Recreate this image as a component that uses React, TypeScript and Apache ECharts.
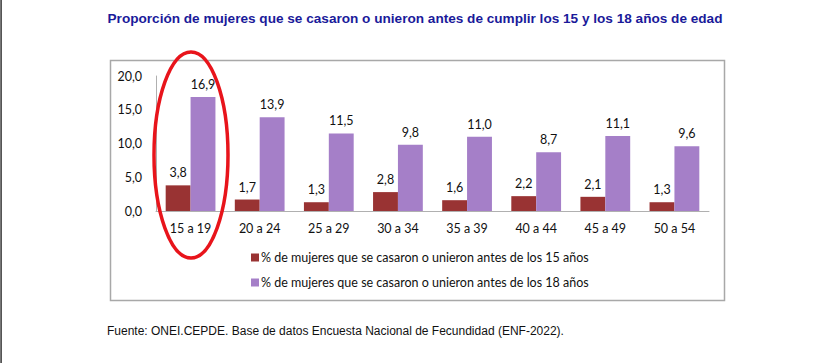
import React, { useEffect, useRef } from "react";
import * as echarts from "echarts";

const categories = ["15 a 19", "20 a 24", "25 a 29", "30 a 34", "35 a 39", "40 a 44", "45 a 49", "50 a 54"];
const before15 = [3.8, 1.7, 1.3, 2.8, 1.6, 2.2, 2.1, 1.3];
const before18 = [16.9, 13.9, 11.5, 9.8, 11.0, 8.7, 11.1, 9.6];
const seriesNames = [
  "% de mujeres que se casaron o unieron antes de los 15 años",
  "% de mujeres que se casaron o unieron antes de los 18 años",
];
const titleText = "Proporción de mujeres que se casaron o unieron antes de cumplir los 15 y los 18 años de edad";
const sourceText = "Fuente: ONEI.CEPDE. Base de datos Encuesta Nacional de Fecundidad (ENF-2022).";

const fmt = (v: number) => v.toFixed(1).replace(".", ",");
const FONT = "Lato, 'Noto Sans', sans-serif";

export default function App() {
  const ref = useRef<HTMLDivElement>(null);
  useEffect(() => {
    if (!ref.current) return;
    const chart = echarts.init(ref.current, null, { renderer: "svg" });
    const labelCfg = {
      show: true,
      position: "top" as const,
      distance: 6,
      color: "#111",
      fontFamily: FONT,
      fontSize: 12.5,
      formatter: (p: any) => fmt(p.value),
    };
    chart.setOption({
      animation: false,
      backgroundColor: "#fff",
      grid: { left: 156, right: 125, top: 76, bottom: 152, containLabel: false },
      legend: {
        orient: "vertical",
        left: 246,
        top: 246,
        itemWidth: 8,
        itemHeight: 8,
        itemGap: 12,
        icon: "rect",
        textStyle: { fontFamily: FONT, fontSize: 12.5, color: "#111", padding: [0, 0, 0, -3] },
        data: seriesNames,
      },
      xAxis: {
        type: "category",
        data: categories,
        axisLine: { lineStyle: { color: "#b0b0b0", width: 1 } },
        axisTick: { show: false },
        axisLabel: { fontFamily: FONT, fontSize: 12.5, color: "#111", margin: 11 },
      },
      yAxis: {
        type: "value",
        min: 0,
        max: 20,
        interval: 5,
        splitLine: { show: false },
        axisLine: { show: true, lineStyle: { color: "#b0b0b0", width: 1 } },
        axisTick: { show: false },
        axisLabel: { fontFamily: FONT, fontSize: 12.5, color: "#111", margin: 14, formatter: (v: number) => fmt(v) },
      },
      series: [
        {
          name: seriesNames[0],
          type: "bar",
          data: before15,
          barGap: "0%",
          barCategoryGap: "28%",
          itemStyle: { color: "#993333" },
          label: labelCfg,
        },
        {
          name: seriesNames[1],
          type: "bar",
          data: before18,
          barGap: "0%",
          barCategoryGap: "28%",
          itemStyle: { color: "#a57fc8" },
          label: labelCfg,
        },
      ],
      graphic: [
        {
          type: "rect",
          shape: { x: 1, y: 0, width: 1, height: 363 },
          style: { fill: "#555" },
          z: 0,
        },
        {
          type: "rect",
          shape: { x: 0, y: 0, width: 1, height: 363 },
          style: { fill: "#777" },
          z: 0,
        },
        {
          type: "rect",
          shape: { x: 110.5, y: 60.5, width: 614, height: 240 },
          style: { fill: "none", stroke: "#a8a8a8", lineWidth: 1.5 },
          z: 0,
          silent: true,
        },
        {
          type: "text",
          x: 415,
          y: 18,
          style: {
            text: titleText,
            fill: "#1a1a9a",
            font: "bold 13.6px 'Liberation Sans', Arial, sans-serif",
            textAlign: "center",
            textVerticalAlign: "middle",
          },
        },
        {
          type: "text",
          x: 107,
          y: 331,
          style: {
            text: sourceText,
            fill: "#111",
            font: "12px 'Liberation Sans', Arial, sans-serif",
            textAlign: "left",
            textVerticalAlign: "middle",
          },
        },
        {
          type: "ellipse",
          shape: { cx: 191, cy: 155, rx: 37, ry: 103 },
          style: { fill: "none", stroke: "#e8141b", lineWidth: 3.5 },
          z: 100,
          silent: true,
        },
      ],
    });
    return () => chart.dispose();
  }, []);
  return <div ref={ref} style={{ position: "absolute", left: 0, top: 0, width: 834, height: 363 }} />;
}
